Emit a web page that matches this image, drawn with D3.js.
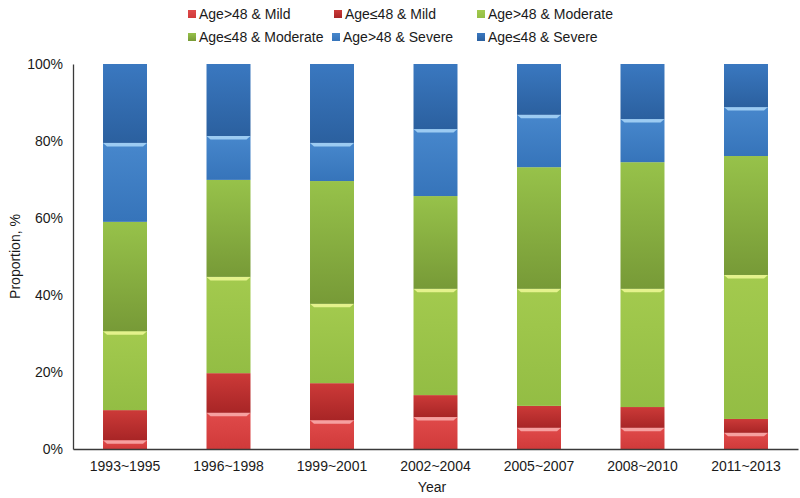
<!DOCTYPE html>
<html>
  <head>
    <meta charset="utf-8">
    <style type="text/css">
      body { margin: 0; background: #fff; }
      text { font-family: "Liberation Sans", Arial, sans-serif; fill: #1a1a1a; }
      .axis path { stroke: #3a3a3a; stroke-width: 1.3; }
      .axis text { font-size: 14px; }
    </style>
  </head>
  <body>
    <script src="https://d3js.org/d3.v7.min.js"></script>
    <script>
      // values, % of each period, bottom to top
      var periods = ["1993~1995", "1996~1998", "1999~2001", "2002~2004", "2005~2007", "2008~2010", "2011~2013"];
      var seriesNames = ["Age>48 & Mild", "Age\u226448 & Mild", "Age>48 & Moderate",
                         "Age\u226448 & Moderate", "Age>48 & Severe", "Age\u226448 & Severe"];
      var mildOld      = [2.3, 9.4, 7.5, 8.3, 5.5, 5.5, 4.2];
      var mildYoung    = [7.8, 10.3, 9.6, 5.7, 5.7, 5.4, 3.6];
      var moderateOld  = [20.5, 25.0, 20.6, 27.6, 30.4, 30.7, 37.4];
      var moderateYoung= [28.4, 25.2, 31.9, 24.1, 31.6, 32.9, 30.9];
      var severeOld    = [20.5, 11.4, 9.9, 17.4, 13.6, 11.2, 12.7];
      var severeYoung  = [20.5, 18.7, 20.5, 16.9, 13.2, 14.3, 11.2];
      var yTicks = [0, 20, 40, 60, 80, 100];

      var allSeries = [mildOld, mildYoung, moderateOld, moderateYoung, severeOld, severeYoung];

      // top, bottom of gradient; highlight colour for the bevelled ones
      var shades = [
        ["#e04a4a", "#d03a3a", "#f6a0a0"],
        ["#cc3a38", "#a82526", null],
        ["#a3ca4e", "#93bd44", "#e4f28c"],
        ["#97c24a", "#779a37", null],
        ["#4787cc", "#3674ba", "#9ccbf2"],
        ["#3a78c0", "#2b609f", null]
      ];

      var width = 800, height = 498;
      var margin = {top: 64, right: 2, bottom: 49, left: 73};

      var table = periods.map(function(p, i) {
        var row = {period: p};
        seriesNames.forEach(function(s, k) { row[s] = allSeries[k][i]; });
        return row;
      });

      var stacked = d3.stack().keys(seriesNames)(table);

      var svg = d3.select("body").append("svg")
          .attr("width", width)
          .attr("height", height);

      var defs = svg.append("defs");
      shades.forEach(function(c, k) {
        var g = defs.append("linearGradient")
            .attr("id", "grad" + k)
            .attr("x1", 0).attr("y1", 0).attr("x2", 0).attr("y2", 1);
        g.append("stop").attr("offset", "0%").attr("stop-color", c[0]);
        g.append("stop").attr("offset", "100%").attr("stop-color", c[1]);
      });

      var x = d3.scaleBand()
          .domain(periods)
          .range([margin.left, width - margin.right])
          .paddingInner(0.575)
          .paddingOuter(0.29);

      var y = d3.scaleLinear()
          .domain([0, 100])
          .range([height - margin.bottom, margin.top]);

      var layers = svg.append("g").selectAll("g")
          .data(stacked)
          .enter().append("g");

      layers.selectAll("rect.seg")
          .data(function(d) { return d; })
          .enter().append("rect")
          .attr("class", "seg")
          .attr("x", function(d) { return x(d.data.period); })
          .attr("y", function(d) { return y(d[1]); })
          .attr("width", x.bandwidth())
          .attr("height", function(d) { return y(d[0]) - y(d[1]); })
          .attr("fill", function() { return "url(#grad" + d3.select(this.parentNode).datum().index + ")"; });

      // bevel highlight on the Age>48 series
      layers.filter(function(d) { return shades[d.index][2]; })
        .selectAll("path.hl")
          .data(function(d) { return d.map(function(v) { return {v: v, k: d.index}; }); })
          .enter().append("path")
          .attr("class", "hl")
          .attr("fill", function(d) { return shades[d.k][2]; })
          .attr("d", function(d) {
            var x0 = x(d.v.data.period), x1 = x0 + x.bandwidth(), t = y(d.v[1]);
            return "M" + x0 + "," + t + "L" + x1 + "," + t + "L" + (x1 - 4) + "," + (t + 3.5) +
                   "L" + (x0 + 4) + "," + (t + 3.5) + "Z";
          });

      // axes
      svg.append("g")
          .attr("class", "axis")
          .attr("transform", "translate(" + margin.left + ",0)")
          .call(d3.axisLeft(y).tickValues(yTicks).tickSize(0).tickPadding(10)
                .tickFormat(function(d) { return d + "%"; }));

      svg.append("g")
          .attr("class", "axis")
          .attr("transform", "translate(0," + (height - margin.bottom) + ")")
          .call(d3.axisBottom(x).tickSize(0).tickPadding(12));

      svg.selectAll(".axis .domain").attr("stroke", "#3a3a3a");

      svg.append("text")
          .attr("transform", "translate(20," + (margin.top + height - margin.bottom) / 2 + ") rotate(-90)")
          .attr("text-anchor", "middle")
          .style("font-size", "14px")
          .text("Proportion, %");

      svg.append("text")
          .attr("x", 432)
          .attr("y", 492)
          .attr("text-anchor", "middle")
          .style("font-size", "14px")
          .text("Year");

      // legend, two rows of three
      var legendPos = [[188, 14], [334, 14], [477, 14], [188, 37], [332, 37], [477, 37]];
      var legend = svg.append("g").selectAll("g")
          .data(seriesNames)
          .enter().append("g")
          .attr("transform", function(d, i) { return "translate(" + legendPos[i][0] + "," + legendPos[i][1] + ")"; });

      legend.append("rect")
          .attr("x", 0).attr("y", -4)
          .attr("width", 8).attr("height", 8)
          .attr("fill", function(d, i) { return "url(#grad" + i + ")"; });

      legend.append("text")
          .attr("x", 11)
          .attr("dy", "0.35em")
          .style("font-size", "14px")
          .text(function(d) { return d; });
    </script>
  </body>
</html>
